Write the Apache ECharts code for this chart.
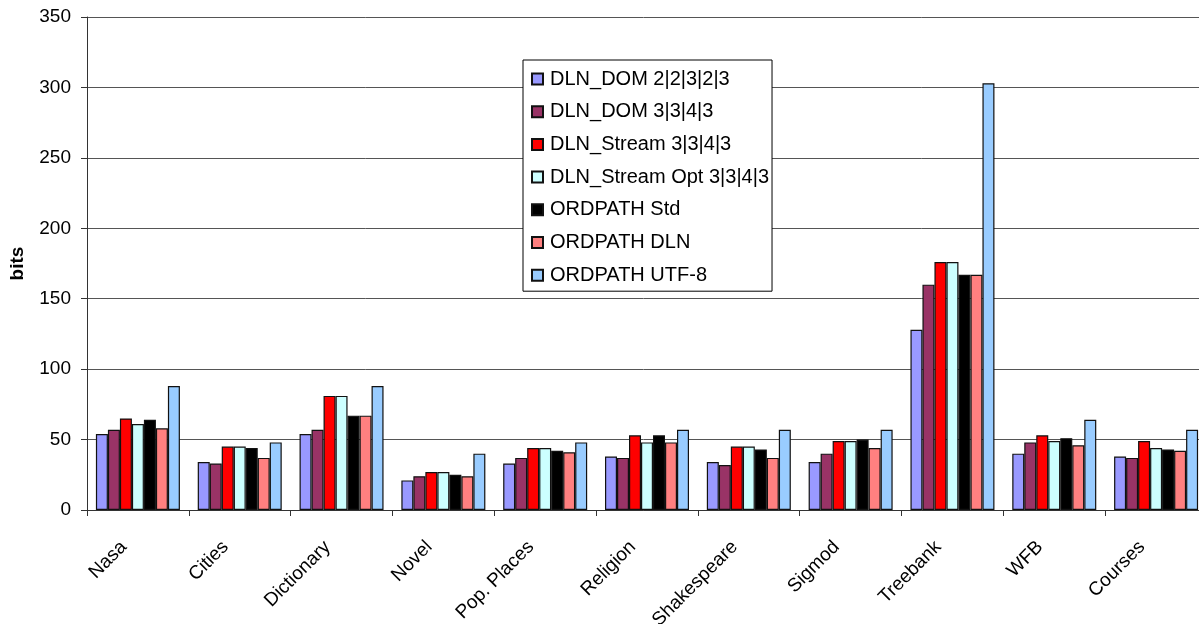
<!DOCTYPE html>
<html>
<head>
<meta charset="utf-8">
<script src="https://cdn.jsdelivr.net/npm/echarts@6/dist/echarts.min.js"></script>
<style>
  html, body { margin: 0; padding: 0; background: #fff; }
  #chart { width: 1199px; height: 624px; }
</style>
</head>
<body>
<div id="chart"></div>
<script>
// Label encoding sizes per data set (bits)
const categories = ['Nasa', 'Cities', 'Dictionary', 'Novel', 'Pop. Places', 'Religion',
                    'Shakespeare', 'Sigmod', 'Treebank', 'WFB', 'Courses'];

const seriesNames = ['DLN_DOM 2|2|3|2|3', 'DLN_DOM 3|3|4|3', 'DLN_Stream 3|3|4|3',
                     'DLN_Stream Opt 3|3|4|3', 'ORDPATH Std', 'ORDPATH DLN', 'ORDPATH UTF-8'];

const dlnDom22323   = [54, 34, 54, 21, 33, 38, 34, 34, 128, 40, 38];
const dlnDom3343    = [57, 33, 57, 24, 37, 37, 32, 40, 160, 48, 37];
const dlnStream3343 = [65, 45, 81, 27, 44, 53, 45, 49, 176, 53, 49];
const dlnStreamOpt  = [61, 45, 81, 27, 44, 48, 45, 49, 176, 49, 44];
const ordpathStd    = [64, 44, 67, 25, 42, 53, 43, 50, 167, 51, 43];
const ordpathDln    = [58, 37, 67, 24, 41, 48, 37, 44, 167, 46, 42];
const ordpathUtf8   = [88, 48, 88, 40, 48, 57, 57, 57, 303, 64, 57];

const yTicks = { min: 0, max: 350, interval: 50 };

const seriesValues = [dlnDom22323, dlnDom3343, dlnStream3343, dlnStreamOpt,
                      ordpathStd, ordpathDln, ordpathUtf8];
const colors = ['#9999FF', '#993366', '#FF0000', '#CCFFFF', '#000000', '#FF8080', '#99CCFF'];

const font = 'Liberation Sans, Arial, sans-serif';

const chart = echarts.init(document.getElementById('chart'), null, { renderer: 'canvas' });

chart.setOption({
  animation: false,
  backgroundColor: '#ffffff',
  textStyle: { fontFamily: font, color: '#000' },
  grid: {
    left: 87, top: 17, width: 1120, height: 493,
    containLabel: false, outerBoundsMode: 'none'
  },
  legend: {
    orient: 'vertical',
    left: 523,
    top: 60,
    padding: [9, 3, 6, 8],
    borderColor: '#000',
    borderWidth: 1,
    backgroundColor: '#fff',
    itemWidth: 11,
    itemHeight: 11,
    itemGap: 12.7,
    icon: 'rect',
    textStyle: { fontFamily: font, fontSize: 20, color: '#000', lineHeight: 18, padding: [0, 0, 0, 2] },
    data: seriesNames
  },
  xAxis: {
    type: 'category',
    data: categories,
    axisLine: { lineStyle: { color: '#333', width: 1 } },
    axisTick: { show: true, alignWithLabel: false, length: 6, lineStyle: { color: '#333' } },
    axisLabel: {
      rotate: 45, fontSize: 19, color: '#000', fontFamily: font,
      margin: 20, interval: 0, padding: [0, 20, 0, 0]
    }
  },
  yAxis: {
    type: 'value',
    min: yTicks.min,
    max: yTicks.max,
    interval: yTicks.interval,
    name: 'bits',
    nameLocation: 'middle',
    nameGap: 60,
    nameRotate: 90,
    nameTextStyle: { fontFamily: font, fontSize: 19, fontWeight: 'bold', color: '#000' },
    axisLine: { show: true, lineStyle: { color: '#333', width: 1 } },
    axisTick: { show: true, length: 6, inside: false, lineStyle: { color: '#333' } },
    axisLabel: { fontSize: 19, color: '#000', fontFamily: font, margin: 16 },
    splitLine: { show: true, lineStyle: { color: '#555', width: 1 } }
  },
  series: seriesNames.map((name, i) => ({
    name: name,
    type: 'bar',
    data: seriesValues[i],
    barGap: '0%',
    barCategoryGap: '17.5%',
    itemStyle: { color: colors[i], borderColor: '#111', borderWidth: 1.2 }
  }))
});
</script>
</body>
</html>
